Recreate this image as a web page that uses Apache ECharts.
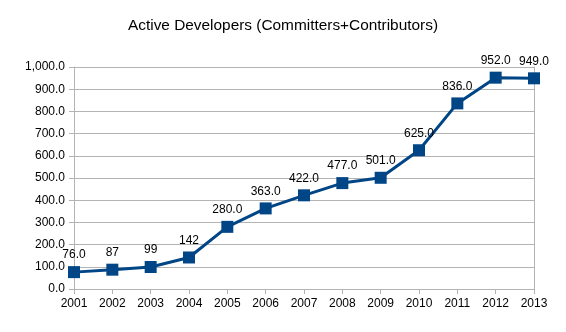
<!DOCTYPE html>
<html>
<head>
<meta charset="utf-8">
<script src="https://cdn.jsdelivr.net/npm/echarts@6/dist/echarts.min.js"></script>
<style>
  html, body { margin: 0; padding: 0; background: #fff; }
  #chart { width: 566px; height: 332px; }
</style>
</head>
<body>
<div id="chart"></div>
<script>
// Yearly count of active developers
const years = ['2001', '2002', '2003', '2004', '2005', '2006', '2007', '2008', '2009', '2010', '2011', '2012', '2013'];
const developers = [76, 87, 99, 142, 280, 363, 422, 477, 501, 625, 836, 952, 949];
const pointLabels = ['76.0', '87', '99', '142', '280.0', '363.0', '422.0', '477.0', '501.0', '625.0', '836.0', '952.0', '949.0'];

const font = '"Liberation Sans", Arial, sans-serif';

function fmtValue(v) {
  const parts = v.toFixed(1).split('.');
  parts[0] = parts[0].replace(/\B(?=(\d{3})+(?!\d))/g, ',');
  return parts.join('.');
}

const chart = echarts.init(document.getElementById('chart'), null, { renderer: 'canvas' });
chart.setOption({
  animation: false,
  backgroundColor: '#ffffff',
  title: {
    text: 'Active Developers (Committers+Contributors)',
    left: 'center',
    top: 13,
    textStyle: { fontFamily: font, fontSize: 15.4, fontWeight: 'normal', color: '#000' }
  },
  grid: { left: 74, right: 32, top: 67, bottom: 43 },
  xAxis: {
    type: 'category',
    data: years,
    boundaryGap: false,
    axisLine: { lineStyle: { color: '#b3b3b3', width: 1 } },
    axisTick: { show: true, length: 5, lineStyle: { color: '#b3b3b3' } },
    axisLabel: { fontFamily: font, fontSize: 12, color: '#000', margin: 9 },
    splitLine: { show: false }
  },
  yAxis: [{
    type: 'value',
    min: 0,
    max: 1000,
    interval: 100,
    axisLine: { show: true, lineStyle: { color: '#b3b3b3', width: 1 } },
    axisTick: { show: true, length: 5, lineStyle: { color: '#b3b3b3' } },
    axisLabel: { fontFamily: font, fontSize: 12, color: '#000', margin: 9, formatter: fmtValue },
    splitLine: { lineStyle: { color: '#b3b3b3', width: 1 } }
  }, {
    type: 'value',
    position: 'right',
    min: 0,
    max: 1000,
    interval: 100,
    axisLine: { show: true, lineStyle: { color: '#b3b3b3', width: 1 } },
    axisTick: { show: false },
    axisLabel: { show: false },
    splitLine: { show: false }
  }],
  series: [{
    type: 'line',
    data: developers,
    symbol: 'rect',
    symbolSize: 12,
    lineStyle: { color: '#004586', width: 3 },
    itemStyle: { color: '#004586' },
    label: {
      show: true,
      position: 'top',
      distance: 5,
      fontFamily: font,
      fontSize: 12,
      color: '#000',
      formatter: p => pointLabels[p.dataIndex]
    }
  }]
});
</script>
</body>
</html>
